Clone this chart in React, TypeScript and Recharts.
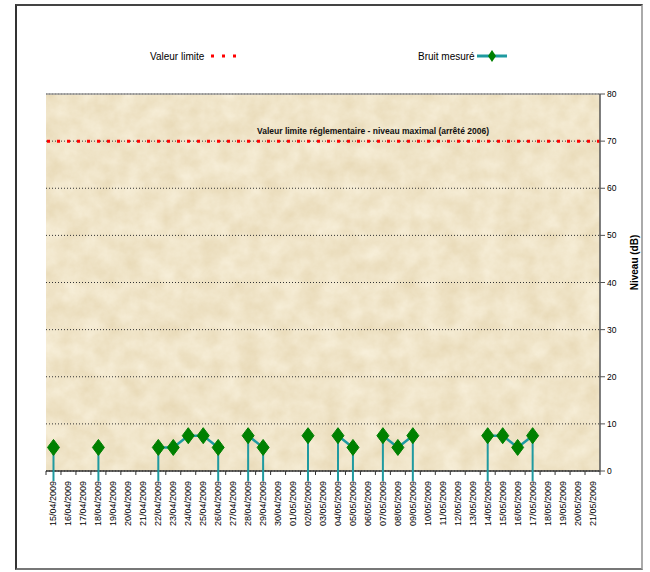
import React from 'react';
import { LineChart, Line, XAxis, YAxis, CartesianGrid, ReferenceLine, Legend } from 'recharts';

const dateLabels = [
  '15/04/2009', '16/04/2009', '17/04/2009', '18/04/2009', '19/04/2009', '20/04/2009', '21/04/2009', '22/04/2009',
  '23/04/2009', '24/04/2009', '25/04/2009', '26/04/2009', '27/04/2009', '28/04/2009', '29/04/2009', '30/04/2009',
  '01/05/2009', '02/05/2009', '03/05/2009', '04/05/2009', '05/05/2009', '06/05/2009', '07/05/2009', '08/05/2009',
  '09/05/2009', '10/05/2009', '11/05/2009', '12/05/2009', '13/05/2009', '14/05/2009', '15/05/2009', '16/05/2009',
  '17/05/2009', '18/05/2009', '19/05/2009', '20/05/2009', '21/05/2009',
];

const measureValues: (number | null)[] = [
  5, null, null, 5, null, null, null, 5,
  5, 7.5, 7.5, 5, null, 7.5, 5, null,
  null, 7.5, null, 7.5, 5, null, 7.5, 5,
  7.5, null, null, null, null, 7.5, 7.5, 5,
  7.5, null, null, null, null,
];

const limitValue = 70;
const yTicks = [0, 10, 20, 30, 40, 50, 60, 70, 80];
const limitLegend = 'Valeur limite';
const measureLegend = 'Bruit mesuré';
const limitNote = "Valeur limite réglementaire - niveau maximal (arrêté 2006)";
const yTitle = 'Niveau (dB)';

const data = dateLabels.map((label, i) => ({ i, label, value: measureValues[i] }));

const W = 650;
const H = 572;
const MARGIN = { top: 78, right: 8, bottom: 11, left: 46 };
const X_AXIS_H = 90;
const AXIS_BOTTOM = H - MARGIN.bottom - X_AXIS_H;
const FONT = '"Liberation Sans", Arial, sans-serif';
const TEAL = '#1F9AA0';
const GREEN = '#008000';

const xTicks: number[] = [];
for (let k = 0; k < dateLabels.length; k++) {
  xTicks.push(k - 0.5);
  xTicks.push(k);
}
xTicks.push(dateLabels.length - 0.5);

const XTick = (props: any) => {
  const { x, y, payload } = props;
  const v = payload.value;
  if (!Number.isInteger(v)) {
    return <line x1={x} x2={x} y1={y} y2={y + 4} stroke="#333" strokeWidth={1} />;
  }
  const label = dateLabels[v];
  return (
    <text
      x={0}
      y={0}
      transform={`translate(${x}, ${y + 10}) rotate(-90)`}
      textAnchor="end"
      dominantBaseline="central"
      fontSize={9}
      fontFamily={FONT}
      fill="#000"
    >
      {label}
    </text>
  );
};

const MeasureDot = (props: any) => {
  const { cx, cy, index } = props;
  if (cx == null || cy == null || measureValues[index] == null) return null;
  const prev = index > 0 ? measureValues[index - 1] : null;
  const next = index < measureValues.length - 1 ? measureValues[index + 1] : null;
  const isEnd = prev == null || next == null;
  return (
    <g key={`d${index}`}>
      {isEnd && <line x1={cx} x2={cx} y1={cy} y2={AXIS_BOTTOM + 10} stroke={TEAL} strokeWidth={2} />}
      <polygon
        points={`${cx},${cy - 8} ${cx + 6},${cy} ${cx},${cy + 8} ${cx - 6},${cy}`}
        fill={GREEN}
        stroke={GREEN}
        strokeWidth={1}
      />
    </g>
  );
};

const YTitle = (props: any) => {
  const { viewBox } = props;
  const cx = viewBox.x + viewBox.width - 8;
  const cy = viewBox.y + viewBox.height / 2 - 20;
  return (
    <text
      x={cx}
      y={cy}
      transform={`rotate(-90, ${cx}, ${cy})`}
      textAnchor="middle"
      dominantBaseline="central"
      fontSize={10}
      fontWeight="bold"
      fontFamily={FONT}
      fill="#000"
    >
      {yTitle}
    </text>
  );
};

const LimitNote = (props: any) => {
  const { viewBox } = props;
  const cx = viewBox.x + viewBox.width / 2 + 50;
  const cy = viewBox.y - 10;
  return (
    <text x={cx} y={cy} textAnchor="middle" dominantBaseline="central" fontSize={8.5} fontWeight="bold" fontFamily={FONT} fill="#111">
      {limitNote}
    </text>
  );
};

const LegendContent = () => (
  <div style={{ position: 'relative', width: W, height: 16, fontFamily: FONT, fontSize: 10, color: '#000' }}>
    <div style={{ position: 'absolute', left: 150, top: 0, display: 'flex', alignItems: 'center', height: 16 }}>
      <span>{limitLegend}</span>
      <svg width={34} height={16} style={{ marginLeft: 6 }}>
        <rect x={1} y={6.5} width={3} height={3} fill="#FF0000" />
        <rect x={12} y={6.5} width={3} height={3} fill="#FF0000" />
        <rect x={23} y={6.5} width={3} height={3} fill="#FF0000" />
      </svg>
    </div>
    <div style={{ position: 'absolute', left: 418, top: 0, display: 'flex', alignItems: 'center', height: 16 }}>
      <span>{measureLegend}</span>
      <svg width={32} height={16} style={{ marginLeft: 2 }}>
        <line x1={0} x2={30} y1={8} y2={8} stroke={TEAL} strokeWidth={3} />
        <polygon points="15,2 19,8 15,14 11,8" fill={GREEN} />
      </svg>
    </div>
  </div>
);

export default function App() {
  return (
    <div style={{ position: 'absolute', left: 0, top: 0, width: W, height: H, background: '#fff' }}>
      <div
        style={{
          position: 'absolute',
          left: 15,
          top: 4,
          width: 624,
          height: 562,
          borderLeft: '2px solid #333',
          borderTop: '2px solid #444',
          borderRight: '2px solid #aaa',
          borderBottom: '2px solid #777',
        }}
      />
      <div style={{ position: 'absolute', left: 0, top: 0 }}>
        <LineChart width={W} height={H} data={data} margin={MARGIN}>
          <defs>
            <filter id="paperFilter" x="0" y="0" width="100%" height="100%" colorInterpolationFilters="sRGB">
              <feTurbulence type="fractalNoise" baseFrequency="0.05" numOctaves={5} seed={11} result="n" />
              <feColorMatrix
                in="n"
                type="matrix"
                values="0.07 0 0 0 0.905  0.10 0 0 0 0.845  0.16 0 0 0 0.705  0 0 0 0 1"
              />
            </filter>
            <pattern id="paper" patternUnits="userSpaceOnUse" x={0} y={0} width={700} height={520}>
              <rect x={0} y={0} width={700} height={520} filter="url(#paperFilter)" />
            </pattern>
          </defs>
          <CartesianGrid
            vertical={false}
            fill="url(#paper)"
            fillOpacity={1}
            stroke="#333"
            strokeDasharray="1 2"
          />
          <XAxis
            dataKey="i"
            type="number"
            domain={[-0.5, dateLabels.length - 0.5]}
            ticks={xTicks}
            interval={0}
            tick={<XTick />}
            tickLine={false}
            tickSize={0}
            tickMargin={0}
            height={X_AXIS_H}
            axisLine={{ stroke: '#333', strokeWidth: 1.5 }}
            allowDecimals
          />
          <YAxis
            orientation="right"
            domain={[0, 80]}
            ticks={yTicks}
            interval={0}
            width={42}
            tickSize={5}
            tickMargin={2}
            tick={{ fontSize: 8.5, fontFamily: FONT, fill: '#000', textAnchor: 'start' }}
            axisLine={{ stroke: '#555', strokeWidth: 1.5 }}
            tickLine={{ stroke: '#555' }}
            label={<YTitle />}
          />
          <ReferenceLine y={80} stroke="#9a9a9a" strokeWidth={1.5} />
          <ReferenceLine
            y={limitValue}
            stroke="#FF0000"
            strokeWidth={3}
            strokeDasharray="3 7"
            label={<LimitNote />}
          />
          <Legend verticalAlign="top" content={<LegendContent />} wrapperStyle={{ top: 48, left: 0, width: W }} />
          <Line
            type="linear"
            dataKey="value"
            stroke={TEAL}
            strokeWidth={2.5}
            connectNulls={false}
            isAnimationActive={false}
            dot={<MeasureDot />}
            activeDot={false}
            legendType="none"
          />
        </LineChart>
      </div>
    </div>
  );
}
